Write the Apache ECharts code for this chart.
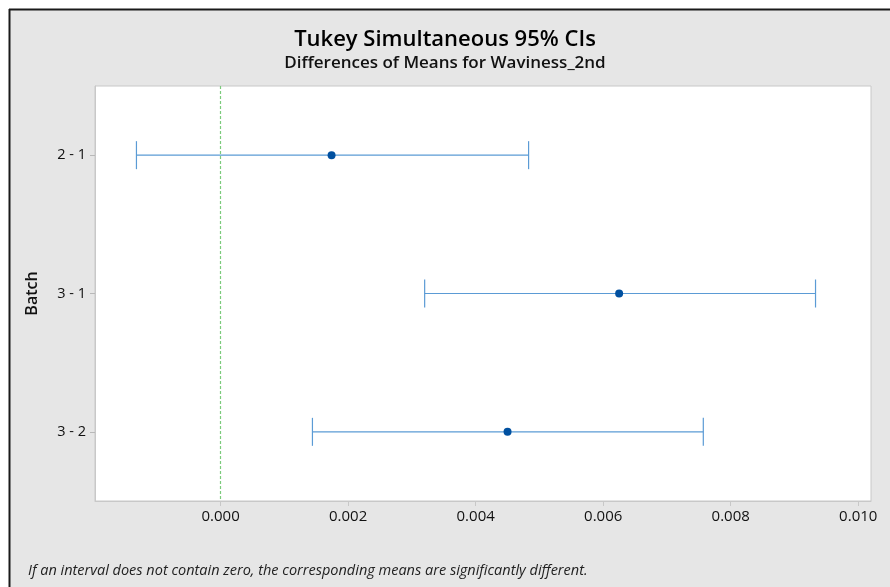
<!DOCTYPE html>
<html><head><meta charset="utf-8">
<script src="https://cdn.jsdelivr.net/npm/echarts@6/dist/echarts.min.js"></script>
<style>html,body{margin:0;padding:0;background:#fff;overflow:hidden}#c{width:890px;height:587px}</style>
</head><body><div id="c"></div>
<script>
const categories = ['2 - 1', '3 - 1', '3 - 2'];
const lowerValues = [-0.00132, 0.00320, 0.00144];
const meanValues = [0.00174, 0.00625, 0.00450];
const upperValues = [0.00483, 0.00933, 0.00757];
const xTickValues = [0, 0.002, 0.004, 0.006, 0.008, 0.010];
const xMin = -0.00197, xMax = 0.0102;

const chart = echarts.init(document.getElementById('c'));
const font = '"Open Sans", "Noto Sans", sans-serif';
const barData = categories.map((c, i) => [lowerValues[i], upperValues[i], c]);
const meanData = categories.map((c, i) => [meanValues[i], c]);

chart.setOption({
  backgroundColor: '#ffffff',
  animation: false,
  graphic: [
    { type: 'rect', z: -10, shape: { x: 9, y: 9, width: 900, height: 600 },
      style: { fill: '#e6e6e6' } },
    { type: 'line', z: -9, shape: { x1: 9.5, y1: 9, x2: 9.5, y2: 600 }, style: { stroke: '#1a1a1a', lineWidth: 2 } },
    { type: 'line', z: -9, shape: { x1: 9, y1: 9.5, x2: 900, y2: 9.5 }, style: { stroke: '#1a1a1a', lineWidth: 2 } },
    { type: 'text', left: 'center', top: 29, style: { text: 'Tukey Simultaneous 95% CIs', font: '600 22px ' + font, fill: '#000' } },
    { type: 'text', left: 'center', top: 55, style: { text: 'Differences of Means for Waviness_2nd', font: '600 17px ' + font, fill: '#111' } },
    { type: 'text', left: 28, top: 563, style: { text: 'If an interval does not contain zero, the corresponding means are significantly different.', font: 'italic 14.5px ' + font, fill: '#222' } }
  ],
  grid: { left: 95, right: 19, top: 86, bottom: 86, show: true, backgroundColor: '#ffffff', borderColor: '#c8c8c8', borderWidth: 1 },
  xAxis: {
    type: 'value', min: xMin, max: xMax,
    axisLine: { show: true, onZero: false, lineStyle: { color: '#c8c8c8' } },
    axisTick: { show: true, customValues: xTickValues, length: 5, lineStyle: { color: '#c8c8c8' } },
    axisLabel: { customValues: xTickValues, color: '#111', fontFamily: font, fontSize: 15, margin: 8,
      formatter: v => v.toFixed(3) },
    splitLine: { show: false }
  },
  yAxis: {
    type: 'category', data: categories, inverse: true,
    name: 'Batch', nameLocation: 'middle', nameGap: 55, nameRotate: 90,
    nameTextStyle: { color: '#111', fontFamily: font, fontSize: 16, fontWeight: 600 },
    axisLine: { show: true, onZero: false, lineStyle: { color: '#c8c8c8' } },
    axisTick: { show: true, alignWithLabel: true, length: 5, lineStyle: { color: '#b8b8b8' } },
    axisLabel: { color: '#111', fontFamily: font, fontSize: 14.5, margin: 9 }
  },
  series: [
    {
      type: 'line', data: [], silent: true,
      markLine: { symbol: 'none', silent: true, label: { show: false },
        lineStyle: { color: '#7ccb7c', type: [3, 2], width: 1.2 },
        data: [{ xAxis: 0 }] }
    },
    {
      type: 'custom', data: barData, encode: { x: [0, 1], y: 2 },
      renderItem: function (params, api) {
        const y = api.value(2);
        const p1 = api.coord([api.value(0), y]);
        const p2 = api.coord([api.value(1), y]);
        const h = 14;
        const st = { stroke: '#5b9bd5', lineWidth: 1.2 };
        return { type: 'group', children: [
          { type: 'line', shape: { x1: p1[0], y1: p1[1], x2: p2[0], y2: p2[1] }, style: st },
          { type: 'line', shape: { x1: p1[0], y1: p1[1] - h, x2: p1[0], y2: p1[1] + h }, style: st },
          { type: 'line', shape: { x1: p2[0], y1: p2[1] - h, x2: p2[0], y2: p2[1] + h }, style: st }
        ]};
      }
    },
    {
      type: 'scatter', data: meanData, symbol: 'circle', symbolSize: 8,
      itemStyle: { color: '#0050a0', opacity: 1 }, z: 5
    }
  ]
});
</script></body></html>
